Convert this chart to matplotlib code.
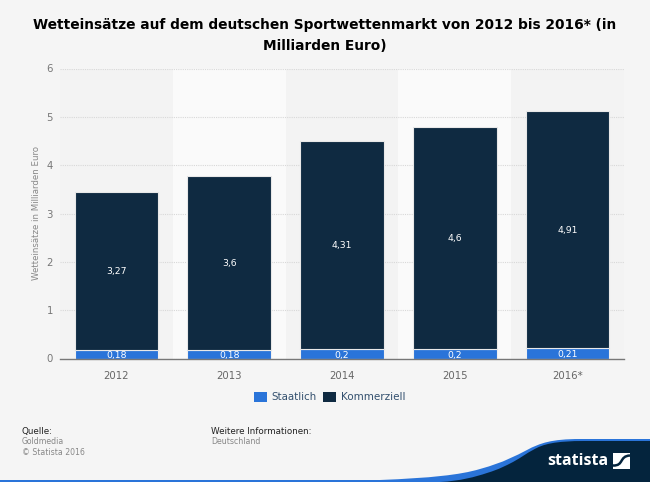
import matplotlib
matplotlib.use("Agg")
import matplotlib.pyplot as plt
from matplotlib.patches import PathPatch, Rectangle
from matplotlib.path import Path

years = ["2012", "2013", "2014", "2015", "2016*"]
staatlich = [0.18, 0.18, 0.2, 0.2, 0.21]
kommerziell = [3.27, 3.6, 4.31, 4.6, 4.91]
staatlich_labels = ["0,18", "0,18", "0,2", "0,2", "0,21"]
kommerziell_labels = ["3,27", "3,6", "4,31", "4,6", "4,91"]

BG = "#f5f5f5"
BLUE = "#2a74d9"
NAVY = "#0f2a41"
FOOT = "#04243d"
W, H = 650, 482

plt.rcParams["font.family"] = "DejaVu Sans"

fig = plt.figure(figsize=(W / 100, H / 100), dpi=100, facecolor=BG)
ax = fig.add_axes([60 / W, 1 - 358.5 / H, 564 / W, 290 / H], facecolor="none")

# alternating column bands
for i in range(len(years)):
    band = "#fafafa" if i % 2 else "#f3f3f3"
    ax.axvspan(i - 0.5, i + 0.5, color=band, lw=0, zorder=0)

x = range(len(years))
ax.bar(x, staatlich, width=0.74, color=BLUE, edgecolor="#f0f0f0", linewidth=0.8, zorder=3)
ax.bar(x, kommerziell, width=0.74, bottom=staatlich, color=NAVY, edgecolor="#e8e8e8",
       linewidth=0.8, zorder=3)

for i in x:
    ax.text(i, staatlich[i] / 2 - 0.03, staatlich_labels[i], ha="center", va="center",
            fontsize=6.7, color="white", zorder=4)
    ax.text(i, staatlich[i] + kommerziell[i] / 2 - 0.02, kommerziell_labels[i], ha="center",
            va="center", fontsize=6.7, color="white", zorder=4)

ax.set_xlim(-0.5, 4.5)
ax.set_ylim(0, 6)
ax.set_yticks(range(7))
ax.set_xticks(list(x))
ax.set_xticklabels(years)
ax.tick_params(axis="y", length=0, pad=5, labelsize=7.3, labelcolor="#777777")
ax.tick_params(axis="x", length=0, pad=9, labelsize=7.3, labelcolor="#666666")
ax.grid(axis="y", color="#d8d8d8", linestyle=(0, (1, 1)), linewidth=0.8, zorder=1)
ax.set_axisbelow(True)
for side in ["top", "left", "right"]:
    ax.spines[side].set_visible(False)
ax.spines["bottom"].set_color("#777777")
ax.spines["bottom"].set_linewidth(1.0)
ax.spines["bottom"].set_zorder(5)
ax.set_ylabel("Wetteinsätze in Milliarden Euro", fontsize=6.2, color="#888888")
ax.yaxis.set_label_coords((41 - 60) / 564, 0.5)

fig.text(325 / W, 1 - 35.5 / H,
         "Wetteinsätze auf dem deutschen Sportwettenmarkt von 2012 bis 2016* (in\nMilliarden Euro)",
         ha="center", va="center", fontsize=9.95, fontweight="bold", color="black", linespacing=1.6)

# legend
leg = fig.add_axes([0, 0, 1, 1], facecolor="none")
leg.set_xlim(0, W)
leg.set_ylim(H, 0)
leg.axis("off")
leg.add_patch(Rectangle((254, 392), 13, 10, color=BLUE, lw=0))
leg.add_patch(Rectangle((323, 392), 13, 10, color=NAVY, lw=0))
leg.text(271, 397.5, "Staatlich", fontsize=7.4, color="#33506e", va="center")
leg.text(341, 397.5, "Kommerziell", fontsize=7.5, color="#33506e", va="center")

# footer text
leg.text(22, 431.5, "Quelle:", fontsize=6.3, color="#222222", va="center")
leg.text(22, 442, "Goldmedia", fontsize=5.6, color="#888888", va="center")
leg.text(22, 452.5, "© Statista 2016", fontsize=5.6, color="#888888", va="center")
leg.text(211, 431.5, "Weitere Informationen:", fontsize=6.3, color="#222222", va="center")
leg.text(211, 442, "Deutschland", fontsize=5.7, color="#888888", va="center")

# footer swoosh
C4 = Path.CURVE4
blue_verts = [(0, 482), (0, 480), (380, 480),
              (430, 478), (460, 475), (480, 469),
              (505, 462), (515, 456), (527, 450),
              (540, 443), (552, 439), (580, 439),
              (650, 439), (650, 482), (0, 482)]
blue_codes = [Path.MOVETO, Path.LINETO, Path.LINETO, C4, C4, C4, C4, C4, C4, C4, C4, C4,
              Path.LINETO, Path.LINETO, Path.CLOSEPOLY]
leg.add_patch(PathPatch(Path(blue_verts, blue_codes), facecolor=BLUE, edgecolor="none"))
navy_verts = [(440, 482),
              (460, 481), (475, 477), (487, 473),
              (500, 469), (505, 466), (513, 462),
              (522, 457), (527, 453), (533, 450),
              (543, 444), (555, 441), (585, 441),
              (650, 441), (650, 482), (440, 482)]
navy_codes = [Path.MOVETO, C4, C4, C4, C4, C4, C4, C4, C4, C4, C4, C4, C4,
              Path.LINETO, Path.LINETO, Path.CLOSEPOLY]
leg.add_patch(PathPatch(Path(navy_verts, navy_codes), facecolor=FOOT, edgecolor="none"))

leg.text(547, 461, "statista", fontsize=11.5, fontweight="bold", color="white", va="center",
         family="Open Sans")
leg.add_patch(Rectangle((613, 452.5), 17, 16, color="white", lw=0))
wave = Path([(613, 465.5), (624, 466), (619, 456), (630, 455.5)], [Path.MOVETO, C4, C4, C4])
leg.add_patch(PathPatch(wave, facecolor="none", edgecolor=FOOT, linewidth=1.8))

fig.savefig("out.png", dpi=100, facecolor=BG)
